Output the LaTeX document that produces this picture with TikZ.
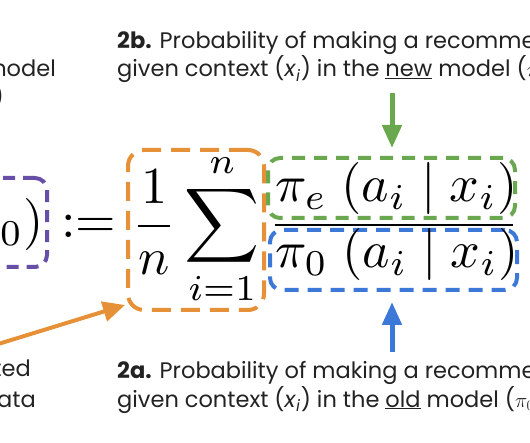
\documentclass[tikz,border=0pt]{standalone}
\usepackage{fontspec}
\setmainfont{Poppins}
\usetikzlibrary{arrows.meta,calc}
\definecolor{gsorange}{HTML}{E69138}
\definecolor{gsgreen}{HTML}{6AA84F}
\definecolor{gsblue}{HTML}{3C78D8}
\definecolor{gspurple}{HTML}{674EA7}
\definecolor{txtcol}{HTML}{222222}
\tikzset{
  txt/.style={inner sep=0pt, text=txtcol, font=\fontsize{22.5}{28}\selectfont},
  mth/.style={inner sep=0pt},
  dbox/.style={draw, line width=4pt, rounded corners=12pt, inner sep=0pt},
  arr/.style={line width=5pt, -{Triangle[width=19pt,length=23pt]}},
}
\newcommand{\mbig}[1]{\scalebox{5.2}{#1}}
\begin{document}
\begin{tikzpicture}[x=1pt,y=-1pt]
\useasboundingbox (0,0) rectangle (530,443);
\clip (0,0) rectangle (530,443);

% boxes
\node[dbox, gspurple, dash pattern=on 12pt off 8pt, minimum width=107pt, minimum height=89pt] (pbox) at (-6.5,222.5) {};
\node[dbox, gsorange, rounded corners=16pt, dash pattern=on 19pt off 10pt, minimum width=136pt, minimum height=160pt] (obox) at (196,230) {};
\node[dbox, gsgreen, dash pattern=on 13pt off 9pt, minimum width=247pt, minimum height=60pt] (gbox) at (391.5,188) {};
\node[dbox, gsblue, dash pattern=on 14pt off 9pt, minimum width=247pt, minimum height=60pt] (bbox) at (393.5,260) {};

% formula
\node[mth, anchor=base east] (lhs) at (44,238) {\mbig{$\hat{V}(\pi_e;\,D_0)$}};
\node[mth, anchor=base west] (defeq) at (61,238) {\mbig{$:=$}};
\node[mth, anchor=base west] (avg) at (132,239) {\mbig{$\displaystyle\frac{1}{n}\sum_{i=1}^{n}$}};
\node[mth, anchor=base west] (num) at (275,202) {\mbig{$\pi_e\;(a_i\mid x_i)$}};
\node[mth, anchor=base west] (den) at (275,268) {\mbig{$\pi_0\;(a_i\mid x_i)$}};
\draw[line width=2.2pt] (275,225) -- (513,225);

% texts
\node[txt, anchor=base west] (t2b1) at (117,49) {\textbf{2b.} Probability of making a recommendation};
\node[txt, anchor=base west] (t2b2) at (117,77) {given context (\textit{x}\textsubscript{\textit{i}}) in the \underline{new} model ($\pi_e$)};
\node[txt, anchor=base west] (t2a1) at (117,378) {\textbf{2a.} Probability of making a recommendation};
\node[txt, anchor=base west] (t2a2) at (117,407) {given context (\textit{x}\textsubscript{\textit{i}}) in the \underline{old} model ($\pi_0$)};
\node[txt, anchor=base east] (t1a) at (56,77) {new model};
\node[txt, anchor=base east] (t1b) at (4,105) {($\pi_e$)};
\node[txt, anchor=base east] (t3a) at (31,377) {collected};
\node[txt, anchor=base east] (t3b) at (36,407) {data};

% arrows
\coordinate (gtail) at (392,93);
\draw[arr, gsgreen, shorten >=8pt] (gtail) -- (gbox.north -| gtail);
\coordinate (btail) at (392,352);
\draw[arr, gsblue, shorten >=10pt] (btail) -- (bbox.south -| btail);
\coordinate (otail) at (-5,345);
\draw[gsorange, line width=4pt, -{Triangle[width=20pt,length=22pt]}] (otail) -- ([xshift=-1pt,yshift=7pt]obox.south west);
\end{tikzpicture}
\end{document}
